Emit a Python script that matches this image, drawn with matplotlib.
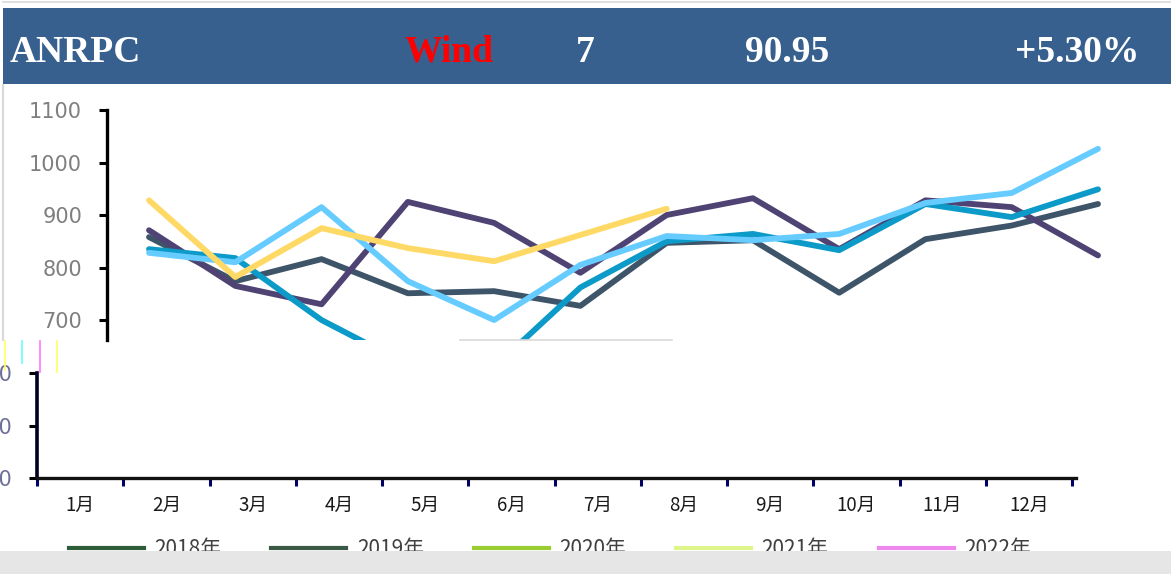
import numpy as np
import matplotlib.pyplot as plt
from matplotlib.lines import Line2D
from matplotlib.patches import Rectangle

plt.rcParams['font.family'] = ['Noto Sans CJK SC', 'DejaVu Sans']

W, H = 1171, 574

# Header values
header_items = ["ANRPC", "Wind", "7", "90.95", "+5.30%"]
header_x = [10, 404, 576, 745, 1015]
header_colors = ["white", "#FF0000", "white", "white", "white"]

# Top chart data (monthly)
months = np.arange(1, 13)
series_purple = [871, 765, 730, 925, 885, 790, 900, 932, 835, 928, 915, 823]
series_slate = [858, 774, 816, 751, 755, 727, 847, 852, 752, 854, 880, 921]
series_teal = [835, 818, 700, 615, 610, 762, 850, 864, 833, 921, 896, 949]
series_light = [828, 810, 915, 774, 700, 805, 860, 852, 864, 923, 942, 1026]
series_yellow = [928, 782, 875, 837, 812, 862, 912]
top_ticks = [700, 800, 900, 1000, 1100]

# Bottom chart
month_labels = [f"{m}月" for m in range(1, 13)]
bottom_ticks = [400, 500, 600]
legend_labels = ["2018年", "2019年", "2020年", "2021年", "2022年"]
legend_colors = ["#2F5D3A", "#3B5A45", "#9ACD32", "#DDF58A", "#EE88EE"]


def fx(x):
    return x / W


def fy(y):
    return 1 - y / H


fig = plt.figure(figsize=(W / 100, H / 100), dpi=100)
fig.patch.set_facecolor("white")

# frame lines
fig.add_artist(Line2D([fx(3), fx(3)], [fy(85), fy(340)], color="#D9D9D9", lw=1.5))
fig.add_artist(Line2D([fx(3), fx(1171)], [fy(2), fy(2)], color="#D9D9D9", lw=1.2))
fig.add_artist(Line2D([fx(460), fx(672)], [fy(340), fy(340)], color="#D9D9D9", lw=1.2))

# banner
fig.add_artist(Rectangle((fx(3), fy(84)), fx(1171 - 3), 76 / H, transform=fig.transFigure,
                         facecolor="#37608F", edgecolor="none"))
for txt, x, c in zip(header_items, header_x, header_colors):
    fig.text(fx(x), fy(52), txt, color=c, fontsize=27, fontweight="bold",
             family="Liberation Serif", va="center", ha="left")

# top chart
ax = fig.add_axes([fx(107), fy(340), fx(1171 - 107), (340 - 85) / H])
ax.plot(months, series_slate, color="#3E5468", lw=4.2, solid_capstyle="round")
ax.plot(months, series_purple, color="#4E4373", lw=4.2, solid_capstyle="round")
ax.plot(months, series_teal, color="#0C9AC8", lw=4.2, solid_capstyle="round")
ax.plot(months, series_light, color="#66CCFF", lw=4.2, solid_capstyle="round")
ax.plot(months[:len(series_yellow)], series_yellow, color="#FFD966", lw=4.2, solid_capstyle="round")
ax.set_xlim(0.513, 12.846)
ax.set_ylim(662, 1147.6)
for s in ["top", "right", "bottom"]:
    ax.spines[s].set_visible(False)
ax.spines["left"].set_bounds(662, 1100)
ax.spines["left"].set_linewidth(2.4)
ax.set_xticks([])
ax.set_yticks(top_ticks)
ax.tick_params(axis="y", length=6, width=2.2, pad=12, labelsize=15, labelcolor="#7F7F7F")
for lab in ax.get_yticklabels():
    lab.set_family("DejaVu Sans")

# glitch marks between charts
for x, c, y1 in [(5, "#FFFF66", 370), (22, "#66FFFF", 363), (40, "#FF77FF", 372), (57, "#FFFF66", 372)]:
    fig.add_artist(Line2D([fx(x), fx(x)], [fy(341), fy(y1)], color=c, lw=1.2))

# bottom chart
bx = fig.add_axes([fx(37), fy(478), fx(1072 - 37), (478 - 373) / H])
bx.set_xlim(0.5, 12.5)
bx.set_ylim(400, 600)
for s in ["top", "right"]:
    bx.spines[s].set_visible(False)
bx.spines["left"].set_color("#000022")
bx.spines["left"].set_linewidth(2.6)
bx.spines["bottom"].set_color("#111111")
bx.spines["bottom"].set_linewidth(2.4)
bx.spines["bottom"].set_bounds(0.5, 12.55)
bx.set_xticks(np.arange(0.5, 13.0, 1.0))
bx.set_xticklabels([])
bx.set_xticks(months, minor=True)
bx.set_xticklabels(month_labels, minor=True)
bx.tick_params(axis="x", which="major", length=6, width=2.2, color="#000066")
bx.tick_params(axis="x", which="minor", length=0, pad=12, labelsize=13.5, labelcolor="#1A1A1A")
bx.set_yticks(bottom_ticks)
bx.tick_params(axis="y", length=6, width=2.2, pad=12, labelsize=15, labelcolor="#6E6E9A")
for lab in bx.get_yticklabels():
    lab.set_family("DejaVu Sans")

rx = bx.twinx()
rx.set_ylim(400, 600)
for s in ["top", "right", "left", "bottom"]:
    rx.spines[s].set_visible(False)
rx.set_yticks(bottom_ticks)
rx.tick_params(axis="y", length=0, pad=78, labelsize=15, labelcolor="#6E6E9A")
for lab in rx.get_yticklabels():
    lab.set_family("DejaVu Sans")

# legend (partly hidden by grey band)
handles = [Line2D([], [], color=c, lw=3) for c in legend_colors]
fig.legend(handles, legend_labels, loc="center left", bbox_to_anchor=(fx(50), fy(549)),
           ncol=5, frameon=False, fontsize=15, handlelength=3.6, columnspacing=2.4,
           labelcolor="#404040", handletextpad=0.5)
fig.add_artist(Rectangle((0, 0), 1, fy(551), transform=fig.transFigure,
                         facecolor="#E6E6E6", edgecolor="none", zorder=10))

fig.savefig("out.png", dpi=100)
